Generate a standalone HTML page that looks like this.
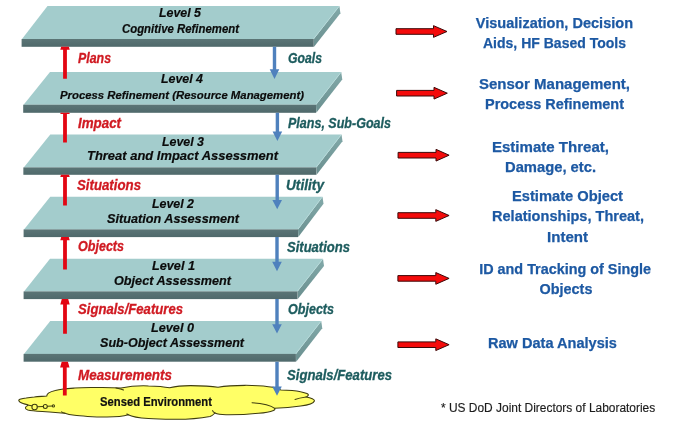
<!DOCTYPE html>
<html lang="en"><head><meta charset="utf-8"><title>JDL Data Fusion Levels</title>
<style>
html,body{margin:0;padding:0;background:#fff;}
body{width:680px;height:444px;overflow:hidden;}
svg{display:block;}
text{font-family:"Liberation Sans",sans-serif;}
.bi{font-weight:bold;font-style:italic;fill:#0b0b0b;stroke:#0b0b0b;stroke-width:0.2px;}
.r{font-weight:bold;font-style:italic;fill:#d01a22;stroke:#d01a22;stroke-width:0.3px;}
.g{font-weight:bold;font-style:italic;fill:#1d5c5e;stroke:#1d5c5e;stroke-width:0.3px;}
.b{font-weight:bold;fill:#1d59a3;stroke:#1d59a3;stroke-width:0.25px;}
.k{font-weight:bold;fill:#111;stroke:#111;stroke-width:0.2px;}
.f{fill:#1c1c1c;stroke:#1c1c1c;stroke-width:0.15px;}
</style></head><body>
<svg width="680" height="444" viewBox="0 0 680 444">
<defs><linearGradient id="fr" x1="0" y1="0" x2="0" y2="1"><stop offset="0" stop-color="#5b7576"/><stop offset="1" stop-color="#4f696b"/></linearGradient><linearGradient id="sd" x1="0" y1="0" x2="0" y2="1"><stop offset="0" stop-color="#82a9a9"/><stop offset="1" stop-color="#6a8f8f"/></linearGradient><filter id="soft" x="0" y="0" width="100%" height="100%" filterUnits="userSpaceOnUse" color-interpolation-filters="sRGB"><feGaussianBlur stdDeviation="0.45"/></filter></defs>
<rect width="680" height="444" fill="#fff"/>
<g filter="url(#soft)">
<rect width="680" height="444" fill="#fff"/>

<g stroke="#3f3d10" stroke-width="1.05" stroke-linejoin="round" stroke-linecap="round">
<path fill="#ffff66" d="M18.8,400.5
C18.4,399.3 22.2,398.6 26.2,398.1
C29,397.5 31.5,397.2 34.3,397
C38,396.6 42,396.4 46.9,396
C46.6,394.8 47.6,393.8 48.8,392.9
C50.5,391.8 52.8,391.1 55.3,390.5
C58,389.7 60.5,389.3 63.4,388.9
C67,388.5 71,388.3 74.7,388.1
C80,387.8 85,387.7 90.9,387.6
C100,387.3 112,387.4 121,388
C130,386.2 142,385.6 148.5,385.9
C156,386 165,386.8 169.6,387.8
C176,386.2 185,385.6 190.6,385.6
C200,385.6 212,386.2 218,387.3
C232,384.8 258,384.6 273,387.3
C275,388 279,389.2 281,390
C289,390 296,390.6 300.6,391.7
C306,392.8 309.5,394.2 308,395.6
C307.5,396.4 306.8,396.8 306,397
C311,397.8 315,399.4 314.4,401
C313.5,403.6 307,405.2 300.6,406
C292,407.2 282,408 274.7,408.3
C275.2,409.4 274.6,410 273.5,410.4
C270,411.8 264,412.8 258.5,413.2
C248,414.4 236,414.9 226,414.8
C221,414.6 217,413.9 215,413
C213.5,414.6 212,415.8 210,416.4
C198,418.6 184,419.4 172.8,419.2
C164,419.2 155,419 148.5,418.5
C140,418 132,416.8 128.3,414.7
C123,416.3 114,416.9 107,416.9
C100,416.9 93,416.7 87.7,416.4
C82.5,416.1 78,415.8 74.7,415.3
C70.5,414.8 67,414 65,413.2
C62.5,413.1 60.5,413 58.5,412.8
C52.5,412.4 47,412 42.4,411.6
C36.5,411.1 31,410.6 27.8,409.9
C26,409.4 25.2,408.6 25.4,407.8
C25.6,406.8 26.6,406.1 27.8,405.6
L27.8,404.8
C26,404.4 24.4,404 23,403.5
C20.8,402.8 19,401.8 18.8,400.5Z"/>
<path fill="none" d="M306,397 C302,397.6 298,398.4 295,399.4"/>
<path fill="none" d="M252,402.7 C261,403.4 271,405.4 274.7,408.3"/>
<path fill="none" d="M116,387.9 C119,388.4 122,389.2 123.5,390"/>
<path fill="none" d="M215,413 C213.4,412.2 212.6,411.4 212.6,410.6"/>
<path fill="none" d="M128.3,414.7 C127.6,414.4 127.2,414.2 126.8,414"/>
<path fill="none" d="M65,413.2 C63.6,412.8 62.4,412.4 61.6,411.8"/>
<path fill="none" d="M27.8,405 C29,405.3 30.5,405.5 32,405.8"/>
<path fill="none" d="M37.4,406.8 L43.2,406.5 M47.4,406.3 L52.2,406"/>
<circle cx="34.6" cy="407" r="2.7" fill="none"/>
<circle cx="45.3" cy="406.4" r="2" fill="none"/>
<circle cx="53.4" cy="405.9" r="1.1" fill="none"/>
</g>

<polygon points="339.4,6.1 340.4,13.28 314.05,46.8 313.75,39" fill="url(#sd)"/>
<polygon points="47.5,6.1 339.4,6.1 313.75,39 22,39" fill="#a3cccc"/>
<line x1="339.1" y1="6.4" x2="313.45" y2="39" stroke="#b9dddd" stroke-width="0.7"/>
<rect x="21.6" y="39" width="292.15" height="7.8" fill="url(#fr)"/>
<polygon points="341.25,72.1 342.25,79.55 316.3,112.8 316,104.7" fill="url(#sd)"/>
<polygon points="50,72.1 341.25,72.1 316,104.7 23.6,104.7" fill="#a3cccc"/>
<line x1="340.95" y1="72.4" x2="315.7" y2="104.7" stroke="#b9dddd" stroke-width="0.7"/>
<rect x="23.2" y="104.7" width="292.8" height="8.1" fill="url(#fr)"/>
<polygon points="341.5,134.45 342.5,141.26 316.6,174.8 316.3,167.4" fill="url(#sd)"/>
<polygon points="50.25,134.45 341.5,134.45 316.3,167.4 23.75,167.4" fill="#a3cccc"/>
<line x1="341.2" y1="134.75" x2="316" y2="167.4" stroke="#b9dddd" stroke-width="0.7"/>
<rect x="23.35" y="167.4" width="292.95" height="7.4" fill="url(#fr)"/>
<polygon points="322.5,196.7 323.5,203.78 298.3,237.1 298,229.4" fill="url(#sd)"/>
<polygon points="50.25,196.7 322.5,196.7 298,229.4 24,229.4" fill="#a3cccc"/>
<line x1="322.2" y1="197" x2="297.7" y2="229.4" stroke="#b9dddd" stroke-width="0.7"/>
<rect x="23.6" y="229.4" width="274.4" height="7.7" fill="url(#fr)"/>
<polygon points="323,258.8 324,265.88 297.8,299.1 297.5,291.4" fill="url(#sd)"/>
<polygon points="50,258.8 323,258.8 297.5,291.4 24,291.4" fill="#a3cccc"/>
<line x1="322.7" y1="259.1" x2="297.2" y2="291.4" stroke="#b9dddd" stroke-width="0.7"/>
<rect x="23.6" y="291.4" width="273.9" height="7.7" fill="url(#fr)"/>
<polygon points="321.25,321 322.25,328.18 296.2,361.7 295.9,353.9" fill="url(#sd)"/>
<polygon points="50.25,321 321.25,321 295.9,353.9 24,353.9" fill="#a3cccc"/>
<line x1="320.95" y1="321.3" x2="295.6" y2="353.9" stroke="#b9dddd" stroke-width="0.7"/>
<rect x="23.6" y="353.9" width="272.3" height="7.8" fill="url(#fr)"/>
<polygon points="61.11,46.8 68.89,46.8 69.7,49.7 66.9,49.7 66.9,78.7 63.1,78.7 63.1,49.7 60.3,49.7" fill="#e30613"/>
<polygon points="60.64,112.8 69.36,112.8 69.7,114 66.9,114 66.9,142.5 63.1,142.5 63.1,114 60.3,114" fill="#e30613"/>
<polygon points="60.92,174.8 69.08,174.8 69.7,177 66.9,177 66.9,205.6 63.1,205.6 63.1,177 60.3,177" fill="#e30613"/>
<polygon points="61.2,237.1 68.8,237.1 69.7,240.3 66.9,240.3 66.9,269.4 63.1,269.4 63.1,240.3 60.3,240.3" fill="#e30613"/>
<polygon points="61.81,299.1 68.19,299.1 69.7,304.5 66.9,304.5 66.9,333.75 63.1,333.75 63.1,304.5 60.3,304.5" fill="#e30613"/>
<polygon points="61.7,361.7 67.9,361.7 69.5,367.4 66.7,367.4 66.7,395.6 62.9,395.6 62.9,367.4 60.1,367.4" fill="#e30613"/>
<polygon points="272.8,46.8 276.2,46.8 276.2,69.3 279.3,69.3 274.5,79 269.7,69.3 272.8,69.3" fill="#4f81bd"/>
<polygon points="275.7,112.8 279.1,112.8 279.1,131.6 282.2,131.6 277.4,141 272.6,131.6 275.7,131.6" fill="#4f81bd"/>
<polygon points="275.5,174.8 278.9,174.8 278.9,199.9 282,199.9 277.2,209.3 272.4,199.9 275.5,199.9" fill="#4f81bd"/>
<polygon points="275.3,237.1 278.7,237.1 278.7,261.8 281.8,261.8 277,271.2 272.2,261.8 275.3,261.8" fill="#4f81bd"/>
<polygon points="275.3,299.1 278.7,299.1 278.7,324.3 281.8,324.3 277,333.6 272.2,324.3 275.3,324.3" fill="#4f81bd"/>
<polygon points="275.3,361.7 278.7,361.7 278.7,386.6 281.8,386.6 277,395.8 272.2,386.6 275.3,386.6" fill="#4f81bd"/>
<polygon points="396,28.7 433.5,28.7 433.5,25.65 447,31.5 433.5,37.35 433.5,34.3 396,34.3" fill="#f40b0b" stroke="#3d0808" stroke-width="1" stroke-linejoin="miter"/>
<polygon points="396.6,90.4 434,90.4 434,87.35 447.3,93.2 434,99.05 434,96 396.6,96" fill="#f40b0b" stroke="#3d0808" stroke-width="1" stroke-linejoin="miter"/>
<polygon points="398.1,152.4 436,152.4 436,149.35 449.1,155.2 436,161.05 436,158 398.1,158" fill="#f40b0b" stroke="#3d0808" stroke-width="1" stroke-linejoin="miter"/>
<polygon points="397.9,212.7 435.8,212.7 435.8,209.65 449.1,215.5 435.8,221.35 435.8,218.3 397.9,218.3" fill="#f40b0b" stroke="#3d0808" stroke-width="1" stroke-linejoin="miter"/>
<polygon points="397.9,275.6 435.8,275.6 435.8,272.55 449.1,278.4 435.8,284.25 435.8,281.2 397.9,281.2" fill="#f40b0b" stroke="#3d0808" stroke-width="1" stroke-linejoin="miter"/>
<polygon points="397.9,341.9 435.8,341.9 435.8,338.85 449.1,344.7 435.8,350.55 435.8,347.5 397.9,347.5" fill="#f40b0b" stroke="#3d0808" stroke-width="1" stroke-linejoin="miter"/>
<text class="bi" x="158.99" y="16.9" font-size="13.3" textLength="42.01" lengthAdjust="spacingAndGlyphs">Level 5</text>
<text class="bi" x="122" y="33.15" font-size="12" textLength="117" lengthAdjust="spacingAndGlyphs">Cognitive Refinement</text>
<text class="bi" x="160.98" y="82.6" font-size="13.3" textLength="42.03" lengthAdjust="spacingAndGlyphs">Level 4</text>
<text class="bi" x="60" y="98.8" font-size="11.6" textLength="244" lengthAdjust="spacingAndGlyphs">Process Refinement (Resource Management)</text>
<text class="bi" x="162" y="145.6" font-size="13.3" textLength="42.01" lengthAdjust="spacingAndGlyphs">Level 3</text>
<text class="bi" x="87" y="160.2" font-size="13.3" textLength="191" lengthAdjust="spacingAndGlyphs">Threat and Impact Assessment</text>
<text class="bi" x="152" y="207.9" font-size="13.3" textLength="42.01" lengthAdjust="spacingAndGlyphs">Level 2</text>
<text class="bi" x="107" y="222.5" font-size="13.3" textLength="132" lengthAdjust="spacingAndGlyphs">Situation Assessment</text>
<text class="bi" x="152" y="269.7" font-size="13.3" textLength="43.01" lengthAdjust="spacingAndGlyphs">Level 1</text>
<text class="bi" x="114" y="284.5" font-size="13.3" textLength="117" lengthAdjust="spacingAndGlyphs">Object Assessment</text>
<text class="bi" x="151" y="332.4" font-size="13.3" textLength="43" lengthAdjust="spacingAndGlyphs">Level 0</text>
<text class="bi" x="100" y="347.15" font-size="13.3" textLength="144" lengthAdjust="spacingAndGlyphs">Sub-Object Assessment</text>
<text class="r" x="78" y="62.9" font-size="13.9" textLength="33.01" lengthAdjust="spacingAndGlyphs">Plans</text>
<text class="r" x="78" y="128.2" font-size="13.9" textLength="43.01" lengthAdjust="spacingAndGlyphs">Impact</text>
<text class="r" x="76.98" y="189.9" font-size="13.9" textLength="64.03" lengthAdjust="spacingAndGlyphs">Situations</text>
<text class="r" x="78" y="251.4" font-size="13.9" textLength="46.01" lengthAdjust="spacingAndGlyphs">Objects</text>
<text class="r" x="78" y="313.7" font-size="13.9" textLength="105" lengthAdjust="spacingAndGlyphs">Signals/Features</text>
<text class="r" x="78" y="379.8" font-size="13.9" textLength="94.01" lengthAdjust="spacingAndGlyphs">Measurements</text>
<text class="g" x="288" y="62.9" font-size="13.9" textLength="34" lengthAdjust="spacingAndGlyphs">Goals</text>
<text class="g" x="288" y="128.1" font-size="13.9" textLength="103" lengthAdjust="spacingAndGlyphs">Plans, Sub-Goals</text>
<text class="g" x="285.99" y="190.1" font-size="13.9" textLength="38.01" lengthAdjust="spacingAndGlyphs">Utility</text>
<text class="g" x="287" y="251.6" font-size="13.9" textLength="63" lengthAdjust="spacingAndGlyphs">Situations</text>
<text class="g" x="288" y="313.85" font-size="13.9" textLength="46.01" lengthAdjust="spacingAndGlyphs">Objects</text>
<text class="g" x="287" y="379.6" font-size="13.9" textLength="105" lengthAdjust="spacingAndGlyphs">Signals/Features</text>
<text class="b" x="475.8" y="27.6" font-size="14.7" textLength="157.21" lengthAdjust="spacingAndGlyphs">Visualization, Decision</text>
<text class="b" x="483" y="47.6" font-size="14.7" textLength="143" lengthAdjust="spacingAndGlyphs">Aids, HF Based Tools</text>
<text class="b" x="478.99" y="89.2" font-size="14.7" textLength="151.02" lengthAdjust="spacingAndGlyphs">Sensor Management,</text>
<text class="b" x="485" y="109.4" font-size="14.7" textLength="139" lengthAdjust="spacingAndGlyphs">Process Refinement</text>
<text class="b" x="491.98" y="151.6" font-size="14.7" textLength="117.03" lengthAdjust="spacingAndGlyphs">Estimate Threat,</text>
<text class="b" x="504.97" y="172.1" font-size="14.7" textLength="91.05" lengthAdjust="spacingAndGlyphs">Damage, etc.</text>
<text class="b" x="511.99" y="200.9" font-size="14.7" textLength="111.01" lengthAdjust="spacingAndGlyphs">Estimate Object</text>
<text class="b" x="492" y="221.2" font-size="14.7" textLength="152.01" lengthAdjust="spacingAndGlyphs">Relationships, Threat,</text>
<text class="b" x="547" y="241.9" font-size="14.7" textLength="41.01" lengthAdjust="spacingAndGlyphs">Intent</text>
<text class="b" x="479.19" y="273.9" font-size="14.7" textLength="171.81" lengthAdjust="spacingAndGlyphs">ID and Tracking of Single</text>
<text class="b" x="539.6" y="293.7" font-size="14.7" textLength="52.8" lengthAdjust="spacingAndGlyphs">Objects</text>
<text class="b" x="487.98" y="348.35" font-size="14.7" textLength="129.02" lengthAdjust="spacingAndGlyphs">Raw Data Analysis</text>
<text class="k" x="99.99" y="405.95" font-size="12.2" textLength="112.01" lengthAdjust="spacingAndGlyphs">Sensed Environment</text>
<text class="f" x="441" y="412.2" font-size="12.3" textLength="214.21" lengthAdjust="spacingAndGlyphs">* US DoD Joint Directors of Laboratories</text>
</g>
</svg></body></html>
